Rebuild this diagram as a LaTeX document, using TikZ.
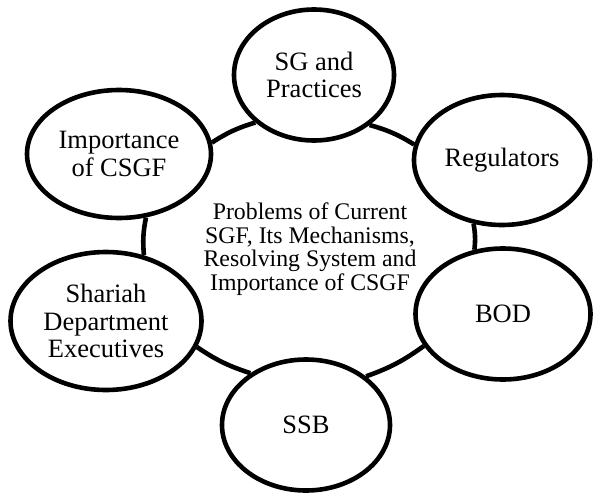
\documentclass[tikz,border=0pt]{standalone}
\usepackage{fontspec}
\setmainfont{Liberation Serif}
\usetikzlibrary{shapes.geometric}

\begin{document}
\begin{tikzpicture}[
  x=1pt, y=1pt,
  topic/.style={draw, ellipse, line width=4.6pt, fill=white, align=center,
                inner sep=0pt, font=\fontsize{26.5}{27.5}\selectfont},
  core/.style={align=center, font=\fontsize{23.8}{23.5}\selectfont},
  link/.style={line width=4.6pt}
]
\useasboundingbox (0,0) rectangle (594,-495);

% centre
\node[core] (core) at (310,-249) {Problems of Current\\SGF, Its Mechanisms,\\Resolving System and\\Importance of CSGF};

% ring of topics
\node[topic, minimum width=160pt, minimum height=131pt] (sg)  at (314,-75)  {SG and\\Practices};
\node[topic, minimum width=176pt, minimum height=130pt] (reg) at (502,-160) {Regulators};
\node[topic, minimum width=175pt, minimum height=131pt] (bod) at (503,-314) {BOD};
\node[topic, minimum width=168pt, minimum height=131pt] (ssb) at (306,-425) {SSB};
\node[topic, minimum width=191pt, minimum height=138pt] (sha) at (106,-321) {Shariah\\Department\\Executives};
\node[topic, minimum width=184pt, minimum height=128pt] (imp) at (119,-154) {Importance\\of CSGF};

% edges
\draw[link] (sg.318) to[bend left=8] (reg.170);
\draw[link] (reg.246) to[bend left=8] (bod.114);
\draw[link] (bod.202) to[bend left=8] (ssb.39);
\draw[link] (ssb.137) to[bend left=8] (sha.344);
\draw[link] (sha.60) to[bend left=8] (imp.293);
\draw[link] (imp.7) to[bend left=8] (sg.219);
\end{tikzpicture}
\end{document}
